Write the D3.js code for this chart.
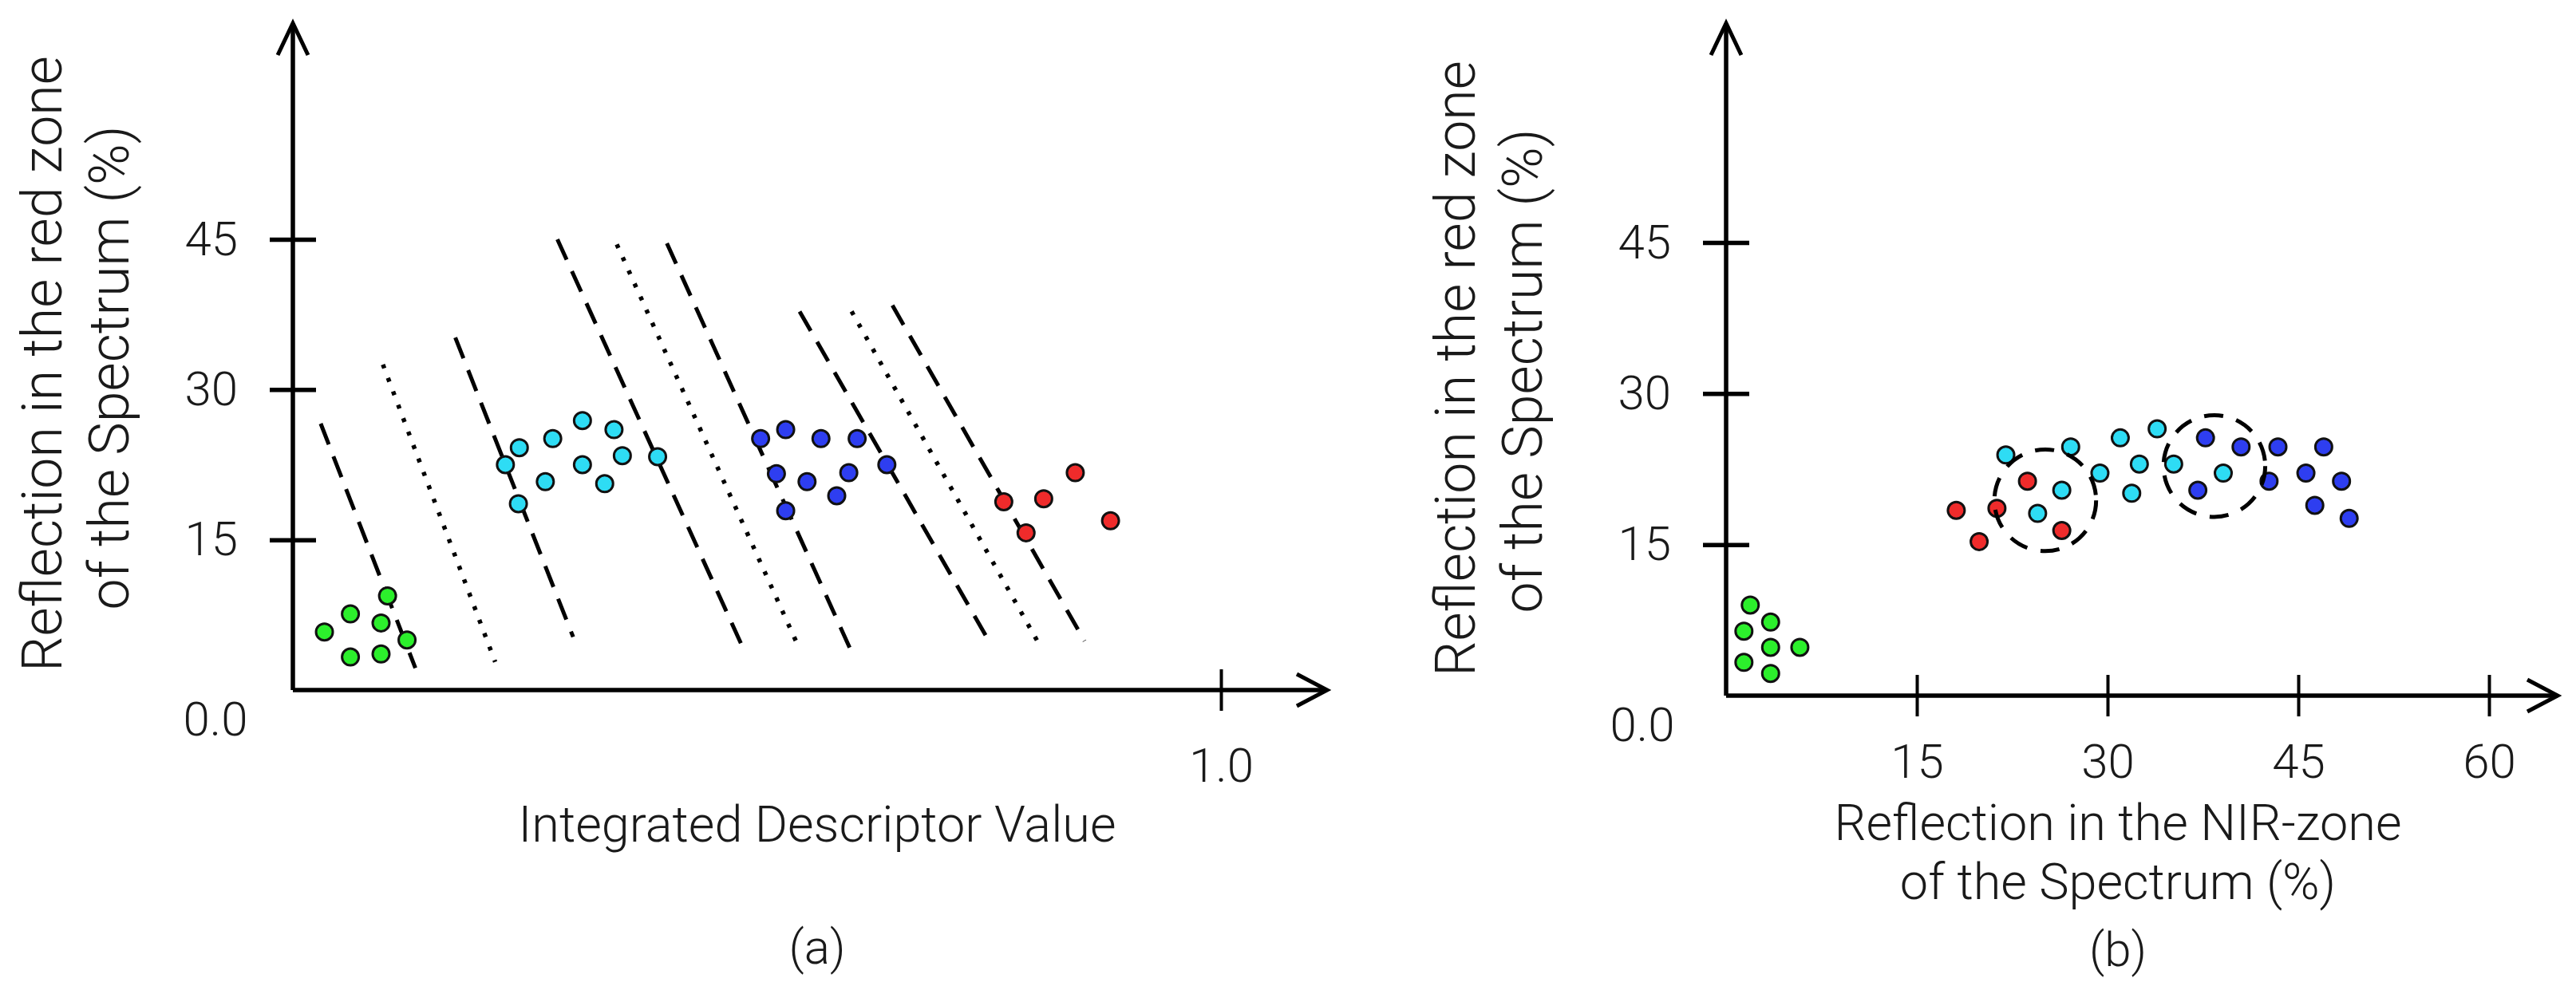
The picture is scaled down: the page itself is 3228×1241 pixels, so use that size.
<!DOCTYPE html>
<html>
<head>
<meta charset="utf-8">
<script src="https://cdn.jsdelivr.net/npm/d3@7"></script>
<style>
  body { margin: 0; background: #fff; }
  text { font-family: Roboto, "Open Sans", sans-serif; font-weight: 300; fill: #1a1a1a; }
</style>
</head>
<body>
<script>
// ---- data ----
// panel (a): integrated descriptor value vs reflection in the red zone (%)
var greenA = [[0.034,5.8],[0.062,7.6],[0.102,9.4],[0.095,6.7],[0.123,5.0],[0.062,3.3],[0.095,3.6]];
var cyanA  = [[0.229,22.5],[0.244,24.2],[0.243,18.6],[0.280,25.1],[0.272,20.8],[0.312,26.9],
              [0.312,22.5],[0.346,26.0],[0.355,23.4],[0.336,20.6],[0.393,23.3]];
var blueA  = [[0.504,25.1],[0.531,26.0],[0.569,25.1],[0.608,25.1],[0.640,22.5],[0.521,21.6],
              [0.554,20.8],[0.599,21.7],[0.586,19.4],[0.531,17.9]];
var redA   = [[0.766,18.8],[0.809,19.1],[0.843,21.7],[0.790,15.7],[0.881,16.9]];

// class boundaries in panel (a): [x1, y1, x2, y2]
var dashedA = [[0.030,26.6,0.132,2.2],[0.175,35.2,0.302,5.3],[0.285,45.0,0.486,4.0],
               [0.403,44.6,0.604,3.4],[0.546,37.8,0.753,4.4],[0.646,38.4,0.853,4.9]];
var dottedA = [[0.097,32.5,0.218,2.8],[0.349,44.5,0.542,4.9],[0.602,37.8,0.807,4.1]];

// panel (b): NIR reflection vs red reflection (%)
var greenB = [[1.9,9.0],[3.5,7.3],[1.4,6.4],[3.5,4.8],[5.8,4.8],[1.4,3.3],[3.5,2.2]];
var redB   = [[18.1,18.4],[21.3,18.6],[19.9,15.3],[23.7,21.3],[26.4,16.4]];
var cyanB  = [[22.0,23.9],[27.1,24.7],[26.4,20.4],[24.5,18.1],[29.4,22.1],[31.0,25.6],
              [32.5,23.0],[31.9,20.1],[33.9,26.5],[35.2,23.0],[39.1,22.1]];
var blueB  = [[37.7,25.6],[37.1,20.4],[40.5,24.7],[43.4,24.7],[42.7,21.3],[47.0,24.7],
              [45.6,22.1],[48.4,21.3],[46.3,18.9],[49.0,17.6]];
// overlap zones: [cx, cy, radius in x units]
var zonesB = [[25.1,19.4,4.0],[38.4,22.8,4.0]];

var yTicks  = [15, 30, 45];
var xTicksA = [1.0];
var xTicksB = [15, 30, 45, 60];

var colors = { green: "#2cef2c", cyan: "#2edcf4", blue: "#2e3ef0", red: "#ef2b2b" };

// ---- drawing ----
var svg = d3.select("body").append("svg")
  .attr("width", 3228).attr("height", 1241)
  .style("background", "#fff");

function drawAxes(x, y, cfg) {
  var g = svg.append("g");
  var x0 = x(0), y0 = y(0);

  // vertical axis with open arrow head
  g.append("path")
    .attr("d", "M" + x0 + "," + y0 + "V" + cfg.top)
    .attr("stroke", "#000").attr("stroke-width", 5.5).attr("fill", "none");
  g.append("path")
    .attr("d", "M" + (x0 - 19) + "," + (cfg.top + 40) + "L" + x0 + "," + cfg.top + "L" + (x0 + 19) + "," + (cfg.top + 40))
    .attr("stroke", "#000").attr("stroke-width", 5).attr("fill", "none");

  // horizontal axis with open arrow head
  g.append("path")
    .attr("d", "M" + x0 + "," + y0 + "H" + cfg.right)
    .attr("stroke", "#000").attr("stroke-width", 5.5).attr("fill", "none");
  g.append("path")
    .attr("d", "M" + (cfg.right - 38) + "," + (y0 - 20) + "L" + cfg.right + "," + y0 + "L" + (cfg.right - 38) + "," + (y0 + 20))
    .attr("stroke", "#000").attr("stroke-width", 5).attr("fill", "none");

  g.append("g")
    .attr("transform", "translate(" + x0 + ",0)")
    .call(d3.axisLeft(y).tickValues(yTicks).tickSize(0).tickFormat(d3.format("d")))
    .attr("font-size", null).attr("font-family", null)
    .call(s => s.select(".domain").remove())
    .call(s => s.selectAll(".tick line").attr("x1", -29).attr("x2", 29)
      .attr("stroke", "#000").attr("stroke-width", 5.5))
    .call(s => s.selectAll(".tick text").attr("x", -69)
      .attr("fill", "#1a1a1a").style("font-size", "60px"));

  g.append("g")
    .attr("transform", "translate(0," + y0 + ")")
    .call(d3.axisBottom(x).tickValues(cfg.xTicks).tickSize(0).tickFormat(d3.format(cfg.xFormat)))
    .attr("font-size", null).attr("font-family", null)
    .call(s => s.select(".domain").remove())
    .call(s => s.selectAll(".tick line").attr("y1", -26).attr("y2", 26)
      .attr("stroke", "#000").attr("stroke-width", 4))
    .call(s => s.selectAll(".tick text").attr("y", cfg.xLabelTop)
      .attr("fill", "#1a1a1a").style("font-size", "60px"));

  g.append("text")
    .attr("x", x0 + cfg.zeroDx).attr("y", y0 + 57)
    .attr("text-anchor", "middle").style("font-size", "60px")
    .text("0.0");

  // y title, two rotated lines
  cfg.yTitle.forEach(function (t, i) {
    g.append("text")
      .attr("transform", "translate(" + cfg.yTitleX[i] + "," + cfg.yTitleY[i] + ") rotate(-90)")
      .attr("text-anchor", "middle").style("font-size", "70px")
      .text(t);
  });

  cfg.xTitle.forEach(function (t, i) {
    g.append("text")
      .attr("x", cfg.xTitleX).attr("y", cfg.xTitleBase[i])
      .attr("text-anchor", "middle").style("font-size", "63px")
      .text(t);
  });

  g.append("text")
    .attr("x", cfg.xTitleX).attr("y", cfg.panelY)
    .attr("text-anchor", "middle").style("font-size", "60px")
    .text(cfg.panel);
}

function drawPoints(x, y, pts, color) {
  svg.append("g").selectAll("circle")
    .data(pts)
    .enter()
    .append("circle")
    .attr("cx", d => x(d[0]))
    .attr("cy", d => y(d[1]))
    .attr("r", 10.5)
    .attr("fill", color)
    .attr("stroke", "#111")
    .attr("stroke-width", 3);
}

// panel (a)
var xA = d3.scaleLinear().domain([0, 1]).range([367, 1530]);
var yA = d3.scaleLinear().domain([0, 45]).range([865, 300]);

drawAxes(xA, yA, {
  top: 29, right: 1663, xTicks: xTicksA, xFormat: ".1f", xLabelTop: 72, zeroDx: -97,
  yTitle: ["Reflection in the red zone", "of the Spectrum (%)"],
  yTitleX: [77, 161], yTitleY: [456, 461],
  xTitle: ["Integrated Descriptor Value"], xTitleX: 1024, xTitleBase: [1055],
  panel: "(a)", panelY: 1208
});

svg.append("g").selectAll("line")
  .data(dashedA)
  .enter()
  .append("line")
  .attr("x1", d => xA(d[0])).attr("y1", d => yA(d[1]))
  .attr("x2", d => xA(d[2])).attr("y2", d => yA(d[3]))
  .attr("stroke", "#000").attr("stroke-width", 5)
  .attr("stroke-dasharray", "28,16");

svg.append("g").selectAll("line")
  .data(dottedA)
  .enter()
  .append("line")
  .attr("x1", d => xA(d[0])).attr("y1", d => yA(d[1]))
  .attr("x2", d => xA(d[2])).attr("y2", d => yA(d[3]))
  .attr("stroke", "#000").attr("stroke-width", 5.5)
  .attr("stroke-dasharray", "5,13");

drawPoints(xA, yA, greenA, colors.green);
drawPoints(xA, yA, cyanA, colors.cyan);
drawPoints(xA, yA, blueA, colors.blue);
drawPoints(xA, yA, redA, colors.red);

// panel (b)
var xB = d3.scaleLinear().domain([0, 60]).range([2163, 3119]);
var yB = d3.scaleLinear().domain([0, 45]).range([872, 304]);

drawAxes(xB, yB, {
  top: 29, right: 3205, xTicks: xTicksB, xFormat: "d", xLabelTop: 60, zeroDx: -105,
  yTitle: ["Reflection in the red zone", "of the Spectrum (%)"],
  yTitleX: [1848, 1932], yTitleY: [462, 465],
  xTitle: ["Reflection in the NIR-zone", "of the Spectrum (%)"], xTitleX: 2654, xTitleBase: [1053, 1127],
  panel: "(b)", panelY: 1211
});

drawPoints(xB, yB, greenB, colors.green);
drawPoints(xB, yB, redB, colors.red);
drawPoints(xB, yB, cyanB, colors.cyan);
drawPoints(xB, yB, blueB, colors.blue);

svg.append("g").selectAll("circle")
  .data(zonesB)
  .enter()
  .append("circle")
  .attr("cx", d => xB(d[0]))
  .attr("cy", d => yB(d[1]))
  .attr("r", d => xB(d[2]) - xB(0))
  .attr("fill", "none")
  .attr("stroke", "#000").attr("stroke-width", 5)
  .attr("stroke-dasharray", "24,17");
</script>
</body>
</html>
